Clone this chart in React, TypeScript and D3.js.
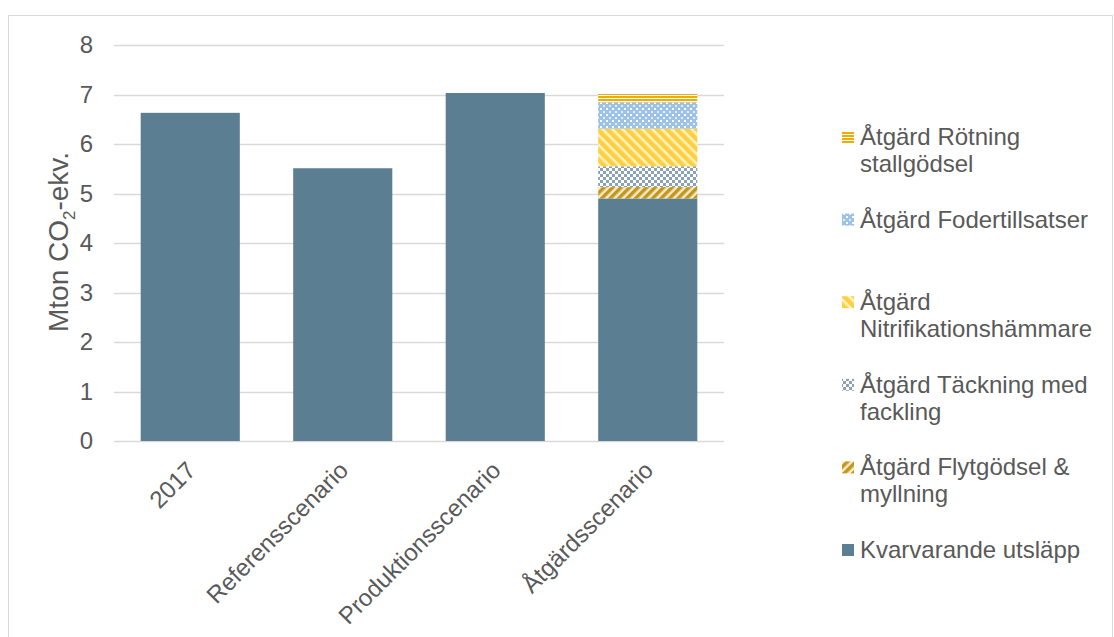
import React from "react";
import * as d3 from "d3";

const categories = ["2017", "Referensscenario", "Produktionsscenario", "Åtgärdsscenario"];
const kvarvarande = [6.63, 5.51, 7.03, 4.9];
const flytgodsel = [0, 0, 0, 0.23];
const tackning = [0, 0, 0, 0.42];
const nitrifikation = [0, 0, 0, 0.76];
const fodertillsatser = [0, 0, 0, 0.53];
const rotning = [0, 0, 0, 0.17];
const yTicks = [0, 1, 2, 3, 4, 5, 6, 7, 8];

const seriesKeys = ["kvar", "flyt", "tack", "nitr", "foder", "rot"];
const seriesLabels: Record<string, string[]> = {
  rot: ["Åtgärd Rötning", "stallgödsel"],
  foder: ["Åtgärd Fodertillsatser"],
  nitr: ["Åtgärd", "Nitrifikationshämmare"],
  tack: ["Åtgärd Täckning med", "fackling"],
  flyt: ["Åtgärd Flytgödsel &", "myllning"],
  kvar: ["Kvarvarande utsläpp"],
};
const fills: Record<string, string> = {
  kvar: "#5B7E92",
  flyt: "url(#pFlyt)",
  tack: "url(#pTack)",
  nitr: "url(#pNitr)",
  foder: "url(#pFoder)",
  rot: "url(#pRot)",
};

const FONT = "Liberation Sans, Arial, sans-serif";
const TXT = "#595959";
const GRID = "#D9D9D9";
const FS = 24;

export default function App() {
  const rows = categories.map((c, i) => ({
    cat: c,
    kvar: kvarvarande[i],
    flyt: flytgodsel[i],
    tack: tackning[i],
    nitr: nitrifikation[i],
    foder: fodertillsatser[i],
    rot: rotning[i],
  }));
  const stacked = d3.stack<any>().keys(seriesKeys)(rows);

  const x = d3.scaleBand<string>().domain(categories).range([114, 724]).paddingInner(0.35).paddingOuter(0.175);
  const y = d3.scaleLinear().domain([0, 8]).range([441, 45]);

  const legendOrder = [...seriesKeys].reverse();
  const legendY0 = 145;
  const legendStep = 82.6;

  return (
    <svg width={1114} height={637} style={{ position: "absolute", left: 0, top: 0 }} fontFamily={FONT}>
      <defs>
        <pattern id="pRot" patternUnits="userSpaceOnUse" width={4} height={3}>
          <rect width={4} height={3} fill="#ffffff" />
          <rect width={4} height={2} fill="#EEAC00" />
        </pattern>
        <pattern id="pFoder" patternUnits="userSpaceOnUse" width={6} height={6}>
          <rect width={6} height={6} fill="#9CC2E8" />
          <rect x={0} y={0} width={2} height={2} fill="#ffffff" />
          <rect x={3} y={3} width={2} height={2} fill="#E4EEF9" />
        </pattern>
        <pattern id="pNitr" patternUnits="userSpaceOnUse" width={7} height={7} patternTransform="rotate(-45)">
          <rect width={7} height={7} fill="#FFF3C4" />
          <rect width={4.5} height={7} fill="#FFCF40" />
        </pattern>
        <pattern id="pTack" patternUnits="userSpaceOnUse" width={6} height={6}>
          <rect width={6} height={6} fill="#ffffff" />
          <rect x={0} y={0} width={3} height={3} fill="#8AA2B5" />
          <rect x={3} y={3} width={3} height={3} fill="#8AA2B5" />
        </pattern>
        <pattern id="pFlyt" patternUnits="userSpaceOnUse" width={6} height={6} patternTransform="rotate(45)">
          <rect width={6} height={6} fill="#F6EBCB" />
          <rect width={3.5} height={6} fill="#C4961A" />
        </pattern>
      </defs>

      <rect x={8.5} y={15.5} width={1104} height={640} fill="#fff" stroke={GRID} strokeWidth={1} />

      {yTicks.map((t) => (
        <g key={t}>
          <line x1={114} x2={724} y1={Math.round(y(t)) + 0.5} y2={Math.round(y(t)) + 0.5} stroke={GRID} strokeWidth={1.5} />
          <text x={93} y={y(t)} dy="0.35em" textAnchor="end" fontSize={FS} fill={TXT}>
            {t}
          </text>
        </g>
      ))}

      {stacked.map((s) => (
        <g key={s.key} fill={fills[s.key]}>
          {s.map((d, i) =>
            d[1] - d[0] > 0 ? (
              <rect
                key={i}
                x={x(categories[i])!}
                y={y(d[1])}
                width={x.bandwidth()}
                height={y(d[0]) - y(d[1])}
              />
            ) : null
          )}
        </g>
      ))}

      <text
        transform={`translate(68,242) rotate(-90)`}
        textAnchor="middle"
        fontSize={28}
        fill={TXT}
      >
        Mton CO<tspan fontSize={17} dy={7}>2</tspan>
        <tspan dy={-7}>-ekv.</tspan>
      </text>

      {categories.map((c) => (
        <text
          key={c}
          transform={`translate(${x(c)! + x.bandwidth() / 2 - 5},${460}) rotate(-45)`}
          textAnchor="end"
          fontSize={FS}
          fill={TXT}
          dy="0.7em"
        >
          {c}
        </text>
      ))}

      {legendOrder.map((k, i) => {
        const by = legendY0 + i * legendStep;
        return (
          <g key={k}>
            <rect x={842} y={by - 14} width={12} height={12} fill={fills[k]} />
            {seriesLabels[k].map((line, j) => (
              <text key={j} x={860} y={by + j * 26.7} fontSize={FS} fill={TXT}>
                {line}
              </text>
            ))}
          </g>
        );
      })}
    </svg>
  );
}
